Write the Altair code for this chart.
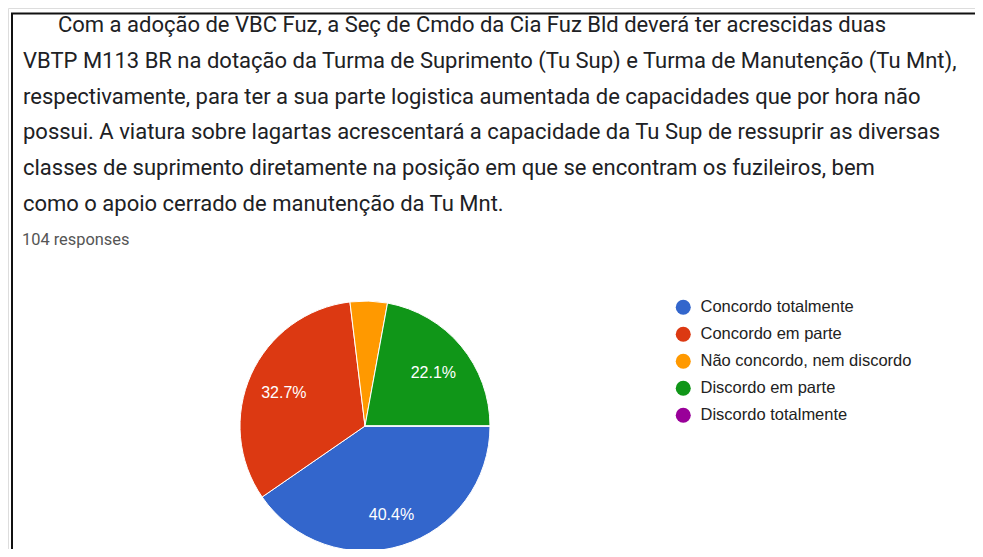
import math
import altair as alt
import pandas as pd

# ---- data ----
categories = ["Concordo totalmente", "Concordo em parte", "Não concordo, nem discordo",
              "Discordo em parte", "Discordo totalmente"]
counts = [42, 34, 5, 23, 0]
labels = ["40.4%", "32.7%", "", "22.1%", ""]
colors = ["#3366cc", "#dc3912", "#ff9900", "#109618", "#990099"]

question_lines = [
    "Com a adoção de VBC Fuz, a Seç de Cmdo da Cia Fuz Bld deverá ter acrescidas duas",
    "VBTP M113 BR na dotação da Turma de Suprimento (Tu Sup) e Turma de Manutenção (Tu Mnt),",
    "respectivamente, para ter a sua parte logistica aumentada de capacidades que por hora não",
    "possui. A viatura sobre lagartas acrescentará a capacidade da Tu Sup de ressuprir as diversas",
    "classes de suprimento diretamente na posição em que se encontram os fuzileiros, bem",
    "como o apoio cerrado de manutenção da Tu Mnt.",
]
responses_text = "104 responses"

pie_df = pd.DataFrame({
    "cat": categories,
    "count": counts,
    "label": labels,
    "order": list(range(len(categories))),
})
lines_df = pd.DataFrame({"line": list(range(len(question_lines))), "text": question_lines})

W, H = 967, 541
CX, CY, R = 357, 418, 125

theta = alt.Theta("count:Q", stack=True,
                  scale=alt.Scale(range=[math.pi / 2, math.pi / 2 + 2 * math.pi]))
color = alt.Color("cat:N", scale=alt.Scale(domain=categories, range=colors),
                  legend=alt.Legend(title=None, orient="none", legendX=667, legendY=291,
                                    symbolType="circle", symbolSize=225, symbolStrokeWidth=0,
                                    labelFont="Arial", labelFontSize=16.5, labelColor="#222222",
                                    labelOffset=9, rowPadding=10, padding=0, labelLimit=400))

base = alt.Chart(pie_df)

pie = base.mark_arc(radius=R, stroke="white", strokeWidth=1).encode(
    theta=theta, color=color, order=alt.Order("order:Q"),
    x=alt.value(CX), y=alt.value(CY),
)
pie_text = base.mark_text(radius=89, dy=4, font="Arial", fontSize=16, color="white").encode(
    theta=theta, text="label:N", order=alt.Order("order:Q"),
    x=alt.value(CX), y=alt.value(CY),
)

yscale = alt.Scale(domain=[0, 5], range=[17, 196])
text_base = alt.Chart(lines_df)
first_line = text_base.transform_filter("datum.line == 0").mark_text(
    align="left", baseline="middle", font="Roboto", fontSize=22, color="#202124"
).encode(x=alt.value(50), y=alt.Y("line:Q", scale=yscale, axis=None), text="text:N")
other_lines = text_base.transform_filter("datum.line > 0").mark_text(
    align="left", baseline="middle", font="Roboto", fontSize=22, color="#202124"
).encode(x=alt.value(15), y=alt.Y("line:Q", scale=yscale, axis=None), text="text:N")

resp = alt.Chart(pd.DataFrame({"t": [responses_text]})).mark_text(
    align="left", baseline="middle", font="Roboto", fontSize=16.4, color="#555555"
).encode(x=alt.value(14), y=alt.value(232), text="t:N")

border = alt.Chart(pd.DataFrame({"t": [0]})).mark_rect(
    fillOpacity=0, stroke="#111111", strokeWidth=2
).encode(x=alt.value(4), y=alt.value(5.5), x2=alt.value(1200), y2=alt.value(1200))

chart = alt.layer(border, first_line, other_lines, resp, pie, pie_text).properties(
    width=W, height=H, padding=0, autosize=alt.AutoSizeParams(type="none")
).configure_view(stroke=None).configure(background="white")

chart.save("out.html", embed_options={"renderer": "svg", "actions": False})
